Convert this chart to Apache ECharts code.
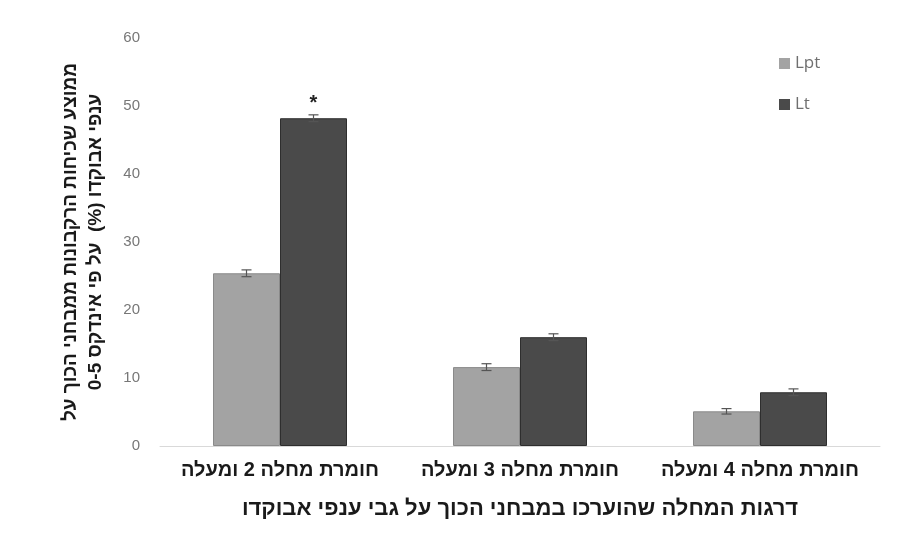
<!DOCTYPE html>
<html>
<head>
<meta charset="utf-8">
<script src="https://cdn.jsdelivr.net/npm/echarts@6/dist/echarts.min.js"></script>
<style>
  html, body { margin: 0; padding: 0; background: #ffffff; }
  #chart { width: 901px; height: 547px; }
</style>
</head>
<body>
<div id="chart"></div>
<script>
// Disease severity classes (left to right)
const categories = ['חומרת מחלה 2 ומעלה', 'חומרת מחלה 3 ומעלה', 'חומרת מחלה 4 ומעלה'];
// Mean rot incidence (%) per series
const lptValues = [25.4, 11.6, 5.1];
const ltValues = [48.2, 16.0, 7.9];
// Standard error per bar
const lptErrors = [0.5, 0.5, 0.4];
const ltErrors = [0.5, 0.5, 0.5];
// Significance marks above the Lt bars
const ltMarks = ['*', '', ''];
const yTicks = [0, 10, 20, 30, 40, 50, 60];

const seriesNames = ['Lpt', 'Lt'];
const barColors = ['#a3a3a3', '#4a4a4a'];
const fontFamily = '"Liberation Sans", "DejaVu Sans", Arial, sans-serif';

const chart = echarts.init(document.getElementById('chart'), null, { renderer: 'canvas' });

const BAR_W = 67;

// Error bar renderer: offset each whisker to the centre of its bar in the group
function errorBar(values, errors, side) {
  return function (params, api) {
    const idx = api.value(0);
    const v = values[idx];
    const e = errors[idx];
    const base = api.coord([idx, v]);
    const x = base[0] + side * BAR_W / 2;
    const hi = api.coord([idx, v + e])[1];
    const lo = api.coord([idx, v - e])[1];
    const cap = 5;
    const style = { stroke: '#555', lineWidth: 1.2 };
    return {
      type: 'group',
      children: [
        { type: 'line', shape: { x1: x, y1: hi, x2: x, y2: lo }, style: style },
        { type: 'line', shape: { x1: x - cap, y1: hi, x2: x + cap, y2: hi }, style: style },
        { type: 'line', shape: { x1: x - cap, y1: lo, x2: x + cap, y2: lo }, style: style }
      ]
    };
  };
}

chart.setOption({
  backgroundColor: '#ffffff',
  animation: false,
  textStyle: { fontFamily: fontFamily },
  grid: { left: 160, right: 21, top: 38, bottom: 101, containLabel: false },
  legend: {
    orient: 'vertical',
    left: 774,
    top: 50,
    itemWidth: 11,
    itemHeight: 11,
    itemGap: 24,
    itemStyle: { borderWidth: 0 },
    icon: 'rect',
    data: seriesNames,
    textStyle: { color: '#6f6f6f', fontSize: 17, fontFamily: '"Open Sans", "Liberation Sans", sans-serif' }
  },
  xAxis: {
    type: 'category',
    data: categories,
    name: 'דרגות המחלה שהוערכו במבחני הכוך על גבי ענפי אבוקדו',
    nameLocation: 'middle',
    nameGap: 52,
    nameTextStyle: { color: '#1a1a1a', fontSize: 22, fontWeight: 'bold', fontFamily: fontFamily },
    axisLine: { show: true, lineStyle: { color: '#d9d9d9', width: 1 } },
    axisTick: { show: false },
    axisLabel: {
      interval: 0,
      hideOverlap: false,
      color: '#1a1a1a',
      fontSize: 20,
      fontWeight: 'bold',
      margin: 14,
      fontFamily: fontFamily
    }
  },
  yAxis: {
    type: 'value',
    min: yTicks[0],
    max: yTicks[yTicks.length - 1],
    interval: yTicks[1] - yTicks[0],
    name: 'ממוצע שכיחות הרקבונות ממבחני הכוך על\nענפי אבוקדו (%)  על פי אינדקס 0-5',
    nameLocation: 'middle',
    nameRotate: 90,
    nameGap: 52,
    nameTextStyle: { color: '#1a1a1a', fontSize: 19, fontWeight: 'bold', lineHeight: 25, fontFamily: fontFamily },
    axisLine: { show: false },
    axisTick: { show: false },
    splitLine: { show: false },
    axisLabel: { color: '#777777', fontSize: 15, margin: 20, fontFamily: fontFamily }
  },
  series: [
    {
      name: seriesNames[0],
      type: 'bar',
      data: lptValues,
      barWidth: BAR_W,
      barGap: '0%',
      itemStyle: { color: barColors[0], borderColor: '#8a8a8a', borderWidth: 1 }
    },
    {
      name: seriesNames[1],
      type: 'bar',
      data: ltValues.map(function (v, i) {
        return {
          value: v,
          label: {
            show: ltMarks[i] !== '',
            position: 'top',
            distance: 5,
            formatter: ltMarks[i],
            color: '#222',
            fontSize: 20,
            fontWeight: 'bold'
          }
        };
      }),
      barWidth: BAR_W,
      barGap: '0%',
      itemStyle: { color: barColors[1], borderColor: '#2e2e2e', borderWidth: 1 }
    },
    {
      type: 'custom',
      name: 'lptErr',
      renderItem: errorBar(lptValues, lptErrors, -1),
      data: lptValues.map(function (v, i) { return [i, v]; }),
      z: 5,
      silent: true
    },
    {
      type: 'custom',
      name: 'ltErr',
      renderItem: errorBar(ltValues, ltErrors, 1),
      data: ltValues.map(function (v, i) { return [i, v]; }),
      z: 5,
      silent: true
    }
  ]
});
</script>
</body>
</html>
